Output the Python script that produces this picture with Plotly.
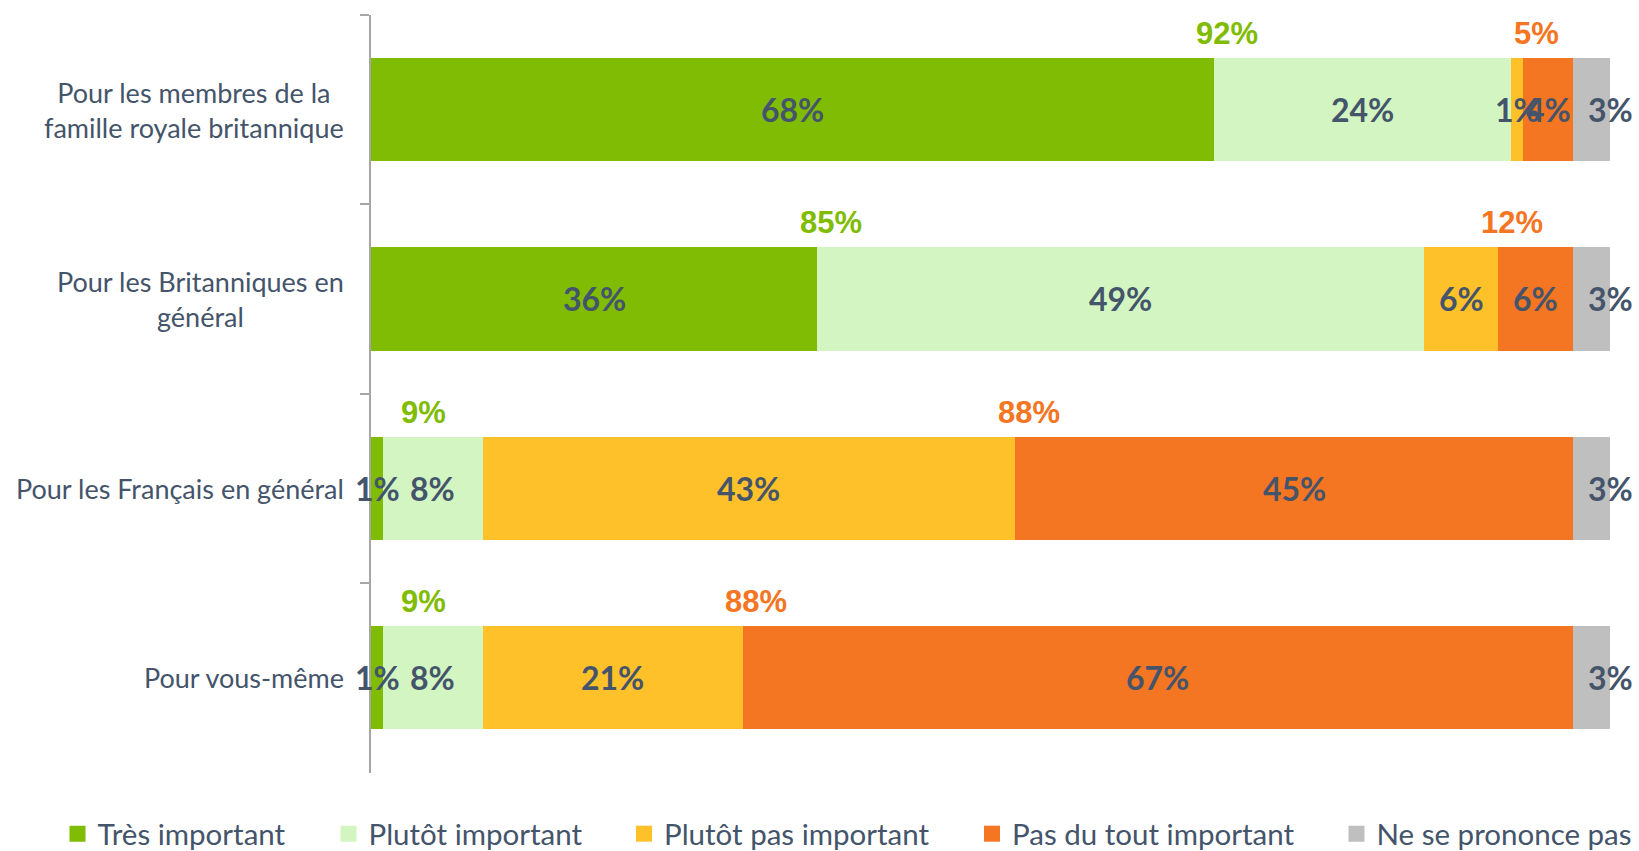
import plotly.graph_objects as go

# ---- data ----
categories = [
    "Pour les membres de la<br>famille royale britannique",
    "Pour les Britanniques en<br>général",
    "Pour les Français en général",
    "Pour vous-même",
]
series_names = ["Très important", "Plutôt important", "Plutôt pas important",
                "Pas du tout important", "Ne se prononce pas"]
tres_important = [68, 36, 1, 1]
plutot_important = [24, 49, 8, 8]
plutot_pas_important = [1, 6, 43, 21]
pas_du_tout_important = [4, 6, 45, 67]
ne_se_prononce_pas = [3, 3, 3, 3]

# ---- styles ----
colors = ["#7FBC03", "#D3F5C1", "#FFC12A", "#F47522", "#BFBFBF"]
label_color = "#44546A"
green_txt = "#7FBC03"
orange_txt = "#F47522"
FONT = "Lato"
NET_FONT = "Liberation Sans, Arial, sans-serif"

W, H = 1639, 851
ML, MR, MT, MB = 371, 29, 15, 78
PW, PH = W - ML - MR, H - MT - MB

series = [tres_important, plutot_important, plutot_pas_important,
          pas_du_tout_important, ne_se_prononce_pas]

fig = go.Figure()
legend_ids = ["legend", "legend2", "legend3", "legend4", "legend5"]
for i, (name, vals) in enumerate(zip(series_names, series)):
    fig.add_trace(go.Bar(
        name=name, y=categories, x=vals, orientation="h",
        marker=dict(color=colors[i], line=dict(width=0)),
        width=0.545, showlegend=False, hoverinfo="skip",
    ))

# legend entries (square symbols)
for i, name in enumerate(series_names):
    fig.add_trace(go.Scatter(
        x=[None], y=[None], mode="markers", name=name,
        marker=dict(symbol="square", size=16, color=colors[i],
                    line=dict(width=0)),
        legend=legend_ids[i], showlegend=True, hoverinfo="skip",
    ))

annotations = []
# value labels drawn above all bars
n_series = len(series)
for k, c in enumerate(categories):
    start = 0
    for i, vals in enumerate(series):
        v = vals[k]
        # last series label sits on the bar end, others at the segment centre
        xpos = start + v if i == n_series - 1 else start + v / 2
        annotations.append(dict(
            x=xpos, xref="x", y=c, yref="y", text=f"{v}%",
            showarrow=False, xanchor="center", yanchor="middle",
            font=dict(family=FONT, size=32, color=label_color, weight="bold"),
        ))
        start += v
# category labels (centred multi-line)
for c in categories:
    annotations.append(dict(
        x=0, xref="paper", y=c, yref="y", text=c, showarrow=False,
        xanchor="right", yanchor="middle", align="center", xshift=-25,
        font=dict(family=FONT, size=27, color=label_color),
    ))
# net labels above the bars
for k, c in enumerate(categories):
    net_pos = tres_important[k] + plutot_important[k]
    net_neg = plutot_pas_important[k] + pas_du_tout_important[k]
    gx = max(tres_important[k] + 1.1, 4.2)
    ox = tres_important[k] + plutot_important[k] + plutot_pas_important[k] + 1.1
    annotations.append(dict(
        x=gx, y=c, xref="x", yref="y", text=f"{net_pos}%", showarrow=False,
        xanchor="center", yanchor="middle", yshift=76,
        font=dict(family=NET_FONT, size=31, color=green_txt, weight="bold"),
    ))
    annotations.append(dict(
        x=ox, y=c, xref="x", yref="y", text=f"{net_neg}%", showarrow=False,
        xanchor="center", yanchor="middle", yshift=76,
        font=dict(family=NET_FONT, size=31, color=orange_txt, weight="bold"),
    ))

# legend placements (symbol centre in px)
legend_px = [77.5, 348.5, 644, 992, 1356.5]
legend_layout = {}
for lid, px in zip(legend_ids, legend_px):
    legend_layout[lid] = dict(
        orientation="h", x=(px - 20 - ML) / PW, xanchor="left",
        y=(H - MB - 834) / PH, yanchor="middle",
        font=dict(family=FONT, size=29.5, color=label_color),
        bgcolor="rgba(0,0,0,0)", borderwidth=0,
    )

fig.update_layout(
    width=W, height=H,
    margin=dict(l=ML, r=MR, t=MT, b=MB, pad=0, autoexpand=False),
    barmode="stack",
    plot_bgcolor="white", paper_bgcolor="white",
    xaxis=dict(range=[0, 100], visible=False, fixedrange=True),
    yaxis=dict(autorange="reversed", showticklabels=False,
               showline=True, linecolor="#A6A6A6", linewidth=1.5,
               ticks="outside", tickson="boundaries", ticklen=9,
               tickcolor="#A6A6A6", tickwidth=1.5, showgrid=False,
               fixedrange=True),
    annotations=annotations,
    showlegend=True,
    **legend_layout,
)

fig.write_html("out.html", config={"displayModeBar": False},
               post_script="document.body.style.margin='0';")
